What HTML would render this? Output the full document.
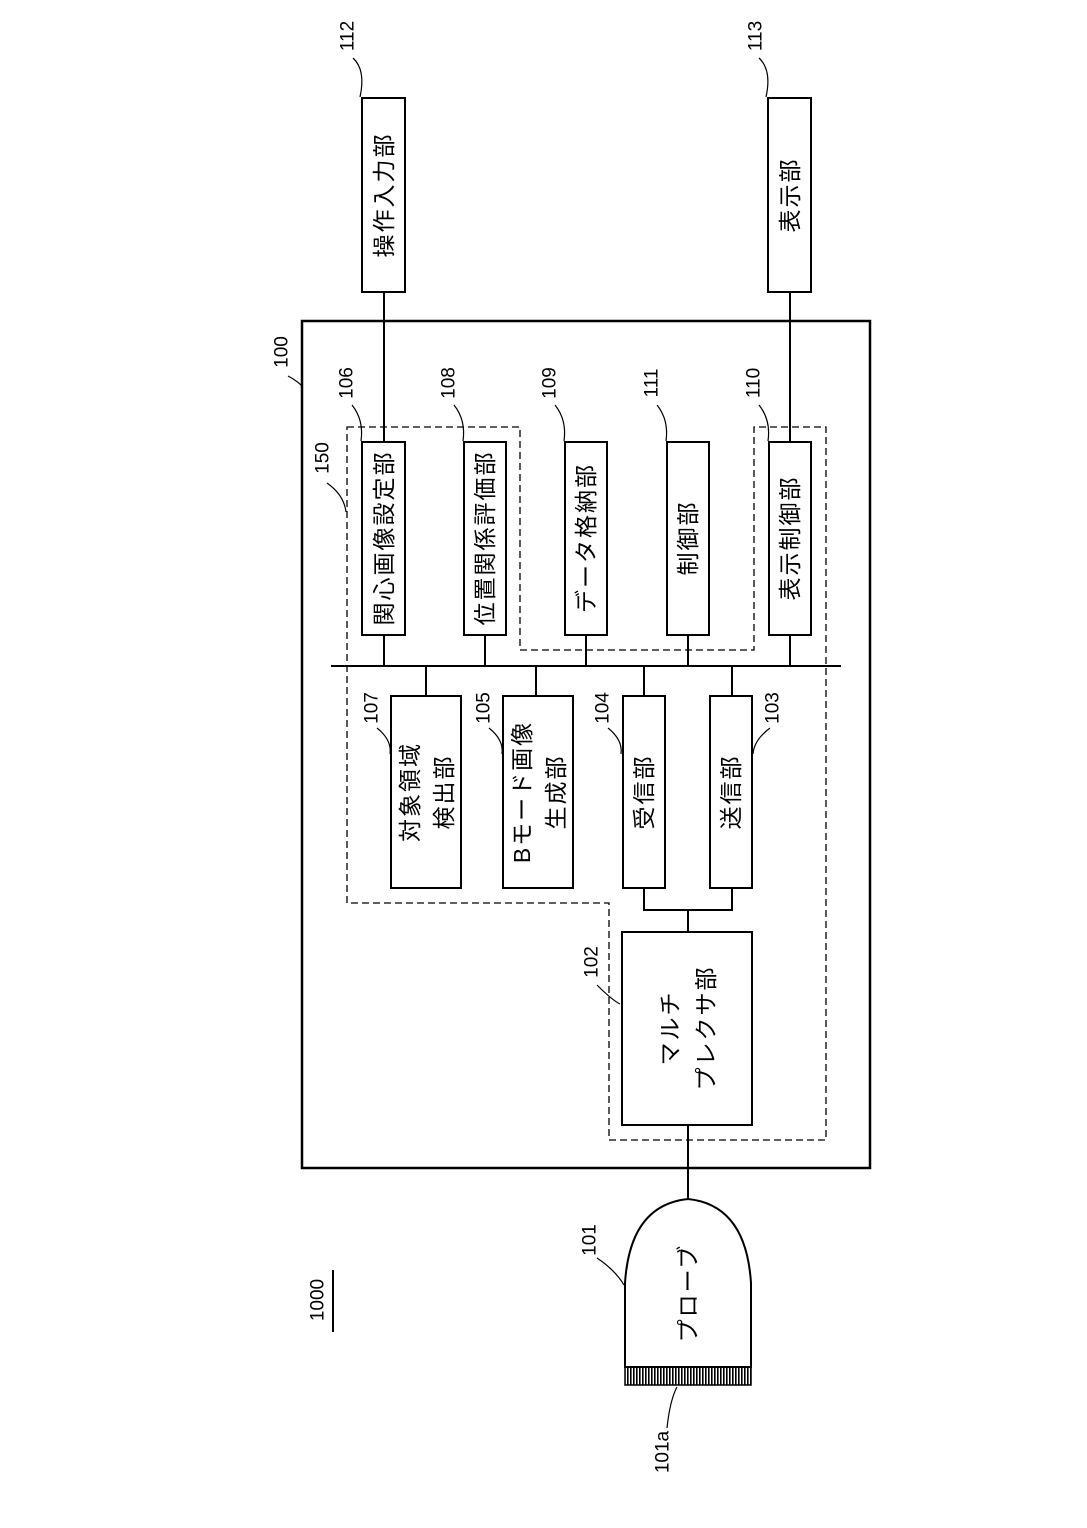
<!DOCTYPE html>
<html><head><meta charset="utf-8"><style>
html,body{margin:0;padding:0;background:#fff;}
svg{display:block;}
text{font-family:"Liberation Sans","Noto Sans CJK JP",sans-serif;fill:#000;}
.b{font-size:23px;letter-spacing:2px;}
.n{font-size:19px;}
</style></head><body>
<svg width="1087" height="1528" viewBox="0 0 1087 1528" xmlns="http://www.w3.org/2000/svg">
<defs>
<pattern id="hatch" width="3" height="4" patternUnits="userSpaceOnUse"><rect width="1.6" height="4" fill="#000"/></pattern>
</defs>
<g fill="none" stroke="#000" stroke-width="2">
<rect x="302" y="321" width="568" height="847" stroke-width="2.5"/>
<rect x="362" y="98" width="43" height="194"/>
<rect x="768" y="98" width="43" height="194"/>
<line x1="384" y1="292" x2="384" y2="442"/>
<line x1="790" y1="292" x2="790" y2="442"/>
<rect x="362" y="442" width="43" height="193"/>
<rect x="464" y="442" width="42" height="193"/>
<rect x="565" y="442" width="42" height="193"/>
<rect x="667" y="442" width="42" height="193"/>
<rect x="769" y="442" width="42" height="193"/>
<line x1="384" y1="635" x2="384" y2="666"/>
<line x1="485" y1="635" x2="485" y2="666"/>
<line x1="586" y1="635" x2="586" y2="666"/>
<line x1="688" y1="635" x2="688" y2="666"/>
<line x1="790" y1="635" x2="790" y2="666"/>
<line x1="331" y1="666" x2="841" y2="666"/>
<line x1="426" y1="666" x2="426" y2="696"/>
<line x1="536" y1="666" x2="536" y2="696"/>
<line x1="644" y1="666" x2="644" y2="696"/>
<line x1="732" y1="666" x2="732" y2="696"/>
<rect x="391" y="696" width="70" height="192"/>
<rect x="503" y="696" width="70" height="192"/>
<rect x="623" y="696" width="42" height="192"/>
<rect x="710" y="696" width="42" height="192"/>
<polyline points="644,888 644,910 732,910 732,888"/>
<line x1="688" y1="910" x2="688" y2="932"/>
<rect x="622" y="932" width="130" height="193"/>
<line x1="688" y1="1125" x2="688" y2="1200"/>
<polygon points="347,427 520,427 520,650 754,650 754,427 826,427 826,1140 609,1140 609,903 347,903" stroke-width="1.3" stroke-dasharray="7,4"/>
<path d="M625,1367 L625,1283 Q630,1205 688,1199 Q746,1205 751,1283 L751,1367 Z"/>
<rect x="625" y="1367" width="126" height="18" fill="url(#hatch)" stroke-width="1.5"/>
<line x1="333" y1="1270" x2="333" y2="1332"/>
<g stroke-width="1.2">
<path d="M353,58 Q366,70 360,97"/>
<path d="M759,58 Q772,70 766,97"/>
<path d="M288,376 Q296,380 302,386"/>
<path d="M352,405 Q364,420 361,441"/>
<path d="M454,405 Q466,420 463,441"/>
<path d="M555,405 Q567,420 564,441"/>
<path d="M657,405 Q669,420 666,441"/>
<path d="M759,405 Q771,420 768,441"/>
<path d="M327,483 Q344,495 346,512"/>
<path d="M377,728 Q392,740 390,754"/>
<path d="M489,728 Q504,740 502,754"/>
<path d="M608,728 Q623,740 621,754"/>
<path d="M770,728 Q754,740 753,754"/>
<path d="M597,985 Q612,1000 620,1004"/>
<path d="M597,1258 Q615,1270 624,1285"/>
<path d="M667,1428 Q670,1400 677,1387"/>
</g>
</g>
<g class="b" text-anchor="middle" dominant-baseline="central">
<text transform="translate(384,195) rotate(-90)">操作入力部</text>
<text transform="translate(790,195) rotate(-90)">表示部</text>
<text transform="translate(384,538) rotate(-90)">関心画像設定部</text>
<text transform="translate(485,538) rotate(-90)">位置関係評価部</text>
<text transform="translate(586,538) rotate(-90)">データ格納部</text>
<text transform="translate(688,538) rotate(-90)">制御部</text>
<text transform="translate(790,538) rotate(-90)">表示制御部</text>
<text transform="translate(410,792) rotate(-90)">対象領域</text>
<text transform="translate(444,792) rotate(-90)">検出部</text>
<text transform="translate(522,792) rotate(-90)">Bモード画像</text>
<text transform="translate(556,792) rotate(-90)">生成部</text>
<text transform="translate(644,792) rotate(-90)">受信部</text>
<text transform="translate(731,792) rotate(-90)">送信部</text>
<text transform="translate(670,1028) rotate(-90)">マルチ</text>
<text transform="translate(706,1028) rotate(-90)">プレクサ部</text>
<text transform="translate(688,1293) rotate(-90)">プローブ</text>
</g>
<g class="n" text-anchor="middle" dominant-baseline="central">
<text transform="translate(348,36) rotate(-90)">112</text>
<text transform="translate(756,36) rotate(-90)">113</text>
<text transform="translate(282,352) rotate(-90)">100</text>
<text transform="translate(347,383) rotate(-90)">106</text>
<text transform="translate(449,383) rotate(-90)">108</text>
<text transform="translate(550,383) rotate(-90)">109</text>
<text transform="translate(652,383) rotate(-90)">111</text>
<text transform="translate(754,383) rotate(-90)">110</text>
<text transform="translate(323,458) rotate(-90)">150</text>
<text transform="translate(372,708) rotate(-90)">107</text>
<text transform="translate(484,708) rotate(-90)">105</text>
<text transform="translate(603,708) rotate(-90)">104</text>
<text transform="translate(773,708) rotate(-90)">103</text>
<text transform="translate(592,962) rotate(-90)">102</text>
<text transform="translate(590,1240) rotate(-90)">101</text>
<text transform="translate(663,1452) rotate(-90)">101a</text>
<text transform="translate(318,1300) rotate(-90)">1000</text>
</g>
</svg>
</body></html>
